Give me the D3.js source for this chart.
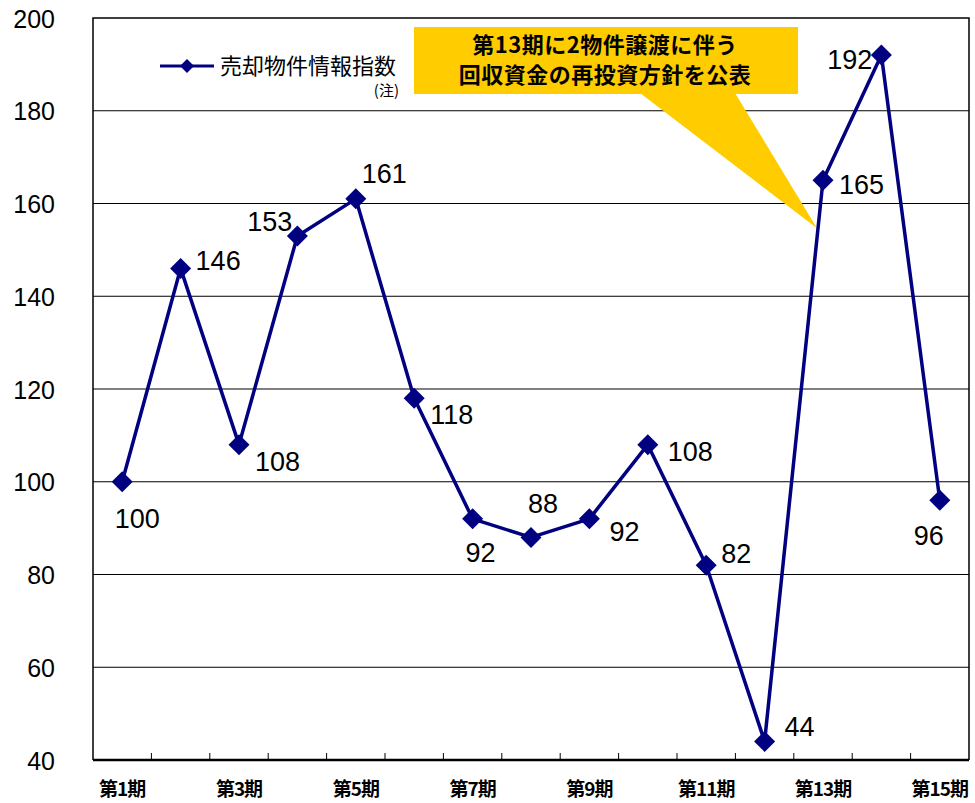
<!DOCTYPE html>
<html>
<head>
<meta charset="utf-8">
<script src="https://cdn.jsdelivr.net/npm/d3@7"></script>
<style>
  body { margin: 0; background: #fff; }
  svg { display: block; }
</style>
</head>
<body>
<div id="chart"></div>
<script>
// data
var periods = ['第1期', '第2期', '第3期', '第4期', '第5期', '第6期', '第7期', '第8期',
  '第9期', '第10期', '第11期', '第12期', '第13期', '第14期', '第15期'];
var indexValues = [100, 146, 108, 153, 161, 118, 92, 88, 92, 108, 82, 44, 165, 192, 96];
var yTicks = [40, 60, 80, 100, 120, 140, 160, 180, 200];
var shownPeriods = ['第1期', '第3期', '第5期', '第7期', '第9期', '第11期', '第13期', '第15期'];
var seriesName = '売却物件情報指数';
var noteText = '(注)';
var calloutLines = ['第13期に2物件譲渡に伴う', '回収資金の再投資方針を公表'];
var calloutPeriod = '第13期';

// where each value label sits relative to its marker: [anchor, dx, dy]
var labelPlace = [
  ['middle', 15, 46], ['start', 15, 2], ['start', 16, 26], ['end', -5, -5],
  ['start', 6, -16], ['start', 16, 26], ['middle', 8, 43], ['middle', 12, -24],
  ['start', 20, 22], ['start', 20, 16], ['start', 15, -2], ['start', 20, -5],
  ['start', 16, 14], ['end', -9, 14], ['middle', -11, 45]
];

var svgWidth = 975, svgHeight = 803;
var margin = { top: 18, right: 6, bottom: 43, left: 93 };
var width = svgWidth - margin.left - margin.right;
var height = svgHeight - margin.top - margin.bottom;
var navy = '#000080';
var jpFont = '"Noto Sans CJK JP", sans-serif';
var numFont = '"Liberation Sans", Arial, sans-serif';

var svg = d3.select('#chart').append('svg')
  .attr('width', svgWidth)
  .attr('height', svgHeight);

var g = svg.append('g')
  .attr('transform', 'translate(' + margin.left + ',' + margin.top + ')');

var xScale = d3.scaleBand().domain(periods).range([0, width]);
var yScale = d3.scaleLinear().domain([40, 200]).range([height, 0]);
var xPos = function(p) { return xScale(p) + xScale.bandwidth() / 2; };

// gridlines
g.selectAll('.grid')
  .data(yTicks.slice(1, -1))
  .enter().append('line')
  .attr('class', 'grid')
  .attr('x1', 0).attr('x2', width)
  .attr('y1', function(d) { return yScale(d); })
  .attr('y2', function(d) { return yScale(d); })
  .attr('stroke', '#000')
  .attr('stroke-width', 1);

// frame (top, right, left)
g.append('path')
  .attr('d', 'M0,' + height + 'V0H' + width + 'V' + height)
  .attr('fill', 'none')
  .attr('stroke', '#000')
  .attr('stroke-width', 1.5);

// Y axis labels
var yAxis = d3.axisLeft(yScale).tickValues(yTicks).tickSize(0).tickPadding(38);
g.append('g')
  .attr('class', 'y axis')
  .call(yAxis)
  .call(function(s) { s.select('.domain').remove(); })
  .selectAll('text')
  .attr('dy', '0.36em')
  .style('font-family', numFont)
  .style('font-size', '25px')
  .attr('fill', '#000');

// X axis: ticks at band edges, pointing up into the plot
var edges = periods.slice(1);
g.selectAll('.xtick')
  .data(edges)
  .enter().append('line')
  .attr('class', 'xtick')
  .attr('x1', function(d) { return xScale(d); })
  .attr('x2', function(d) { return xScale(d); })
  .attr('y1', height).attr('y2', height - 7)
  .attr('stroke', '#000')
  .attr('stroke-width', 1);

g.append('line')
  .attr('x1', 0).attr('x2', width)
  .attr('y1', height).attr('y2', height)
  .attr('stroke', '#000')
  .attr('stroke-width', 2.5);

g.selectAll('.xlabel')
  .data(shownPeriods)
  .enter().append('text')
  .attr('class', 'xlabel')
  .attr('x', function(d) { return xPos(d); })
  .attr('y', height + 36)
  .attr('text-anchor', 'middle')
  .style('font-family', jpFont)
  .style('font-weight', 'bold')
  .style('font-size', '19px')
  .style('letter-spacing', '-1px')
  .text(function(d) { return d; });

// callout
var calloutX = xPos(calloutPeriod);
var callout = g.append('g').attr('class', 'callout');
callout.append('path')
  .attr('d', 'M' + (640 - margin.left) + ',' + (93 - margin.top) +
    'L' + (calloutX - 6) + ',' + (yScale(165) + 48) +
    'L' + (735 - margin.left) + ',' + (93 - margin.top) + 'Z')
  .attr('fill', '#FFCC00');
callout.append('rect')
  .attr('x', 414 - margin.left).attr('y', 27 - margin.top)
  .attr('width', 384).attr('height', 67)
  .attr('fill', '#FFCC00');
callout.selectAll('text')
  .data(calloutLines)
  .enter().append('text')
  .attr('x', 605 - margin.left)
  .attr('y', function(d, i) { return 53 - margin.top + i * 30; })
  .attr('text-anchor', 'middle')
  .style('font-family', jpFont)
  .style('font-weight', 'bold')
  .style('font-size', '22px')
  .style('letter-spacing', '0.5px')
  .text(function(d) { return d; });

// legend
var legend = g.append('g').attr('transform', 'translate(' + (160 - margin.left) + ',' + (66 - margin.top) + ')');
legend.append('line')
  .attr('x1', 0).attr('x2', 54).attr('y1', 0).attr('y2', 0)
  .attr('stroke', navy).attr('stroke-width', 3);
legend.append('path')
  .attr('d', 'M27,-7L34,0L27,7L20,0Z')
  .attr('fill', navy);
legend.append('text')
  .attr('x', 60).attr('y', 8)
  .style('font-family', jpFont)
  .style('font-size', '22px')
  .text(seriesName);
legend.append('text')
  .attr('x', 239).attr('y', 30)
  .attr('text-anchor', 'end')
  .style('font-family', jpFont)
  .style('font-size', '15px')
  .text(noteText);

// line
var line = d3.line()
  .x(function(d, i) { return xPos(periods[i]); })
  .y(function(d) { return yScale(d); });

g.append('path')
  .datum(indexValues)
  .attr('d', line)
  .attr('fill', 'none')
  .attr('stroke', navy)
  .attr('stroke-width', 3.5)
  .attr('stroke-linejoin', 'round');

// markers
var r = 10.5;
g.selectAll('.marker')
  .data(indexValues)
  .enter().append('path')
  .attr('class', 'marker')
  .attr('d', 'M0,' + (-r) + 'L' + r + ',0L0,' + r + 'L' + (-r) + ',0Z')
  .attr('transform', function(d, i) {
    return 'translate(' + xPos(periods[i]) + ',' + yScale(d) + ')';
  })
  .attr('fill', navy);

// value labels
g.selectAll('.vlabel')
  .data(indexValues)
  .enter().append('text')
  .attr('class', 'vlabel')
  .attr('x', function(d, i) { return xPos(periods[i]) + labelPlace[i][1]; })
  .attr('y', function(d, i) { return yScale(d) + labelPlace[i][2]; })
  .attr('text-anchor', function(d, i) { return labelPlace[i][0]; })
  .style('font-family', numFont)
  .style('font-size', '27px')
  .text(function(d) { return d; });
</script>
</body>
</html>
